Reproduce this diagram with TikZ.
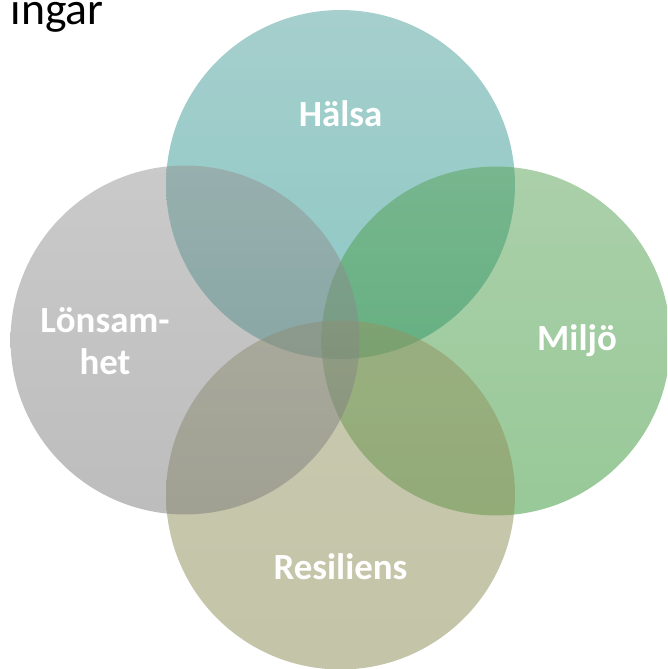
\documentclass[tikz,border=0pt]{standalone}
\usepackage{fontspec}
\setmainfont{Carlito}
\usetikzlibrary{positioning}

\definecolor{halsaTop}{RGB}{77,159,155}
\definecolor{halsaBot}{RGB}{25,145,137}
\definecolor{miljoTop}{RGB}{87,161,85}
\definecolor{miljoBot}{RGB}{49,147,49}
\definecolor{resTop}{RGB}{147,147,97}
\definecolor{resBot}{RGB}{137,137,81}
\definecolor{lonTop}{RGB}{149,149,149}
\definecolor{lonBot}{RGB}{123,123,123}

\begin{document}
\begin{tikzpicture}[x=0.02cm, y=-0.02cm,
    ring/.style={circle, minimum size=6.98cm, inner sep=0pt, fill opacity=0.5},
    lbl/.style={text=white, align=center, inner sep=0pt,
      font=\fontsize{21}{24}\selectfont\bfseries}]
      \path[use as bounding box] (0,0) rectangle (667,669);
      \clip (0,0) rectangle (667,669);
      % circles
      \node[ring, top color=halsaTop, bottom color=halsaBot] (H) at (340.5,184.5) {};
      \node[ring, top color=miljoTop, bottom color=miljoBot] (M) at (496,341) {};
      \node[ring, top color=resTop, bottom color=resBot] (R) at (340.5,495) {};
      \node[ring, top color=lonTop, bottom color=lonBot] (L) at (185,340) {};
      % labels
      \node[lbl] (Ht) at (340.5,114) {Hälsa};
      \node[lbl] (Mt) at (577,341) {Miljö};
      \node[lbl] (Rt) at (340.5,567) {Resiliens};
      \node[lbl] (Lt) at (105,341) {Lönsam-\\het};
      % title remnant
      \node[anchor=base east, inner sep=0pt,
        font=\fontsize{26}{30}\selectfont] (T) at (104,25) {ingar};
    \end{tikzpicture}
\end{document}
